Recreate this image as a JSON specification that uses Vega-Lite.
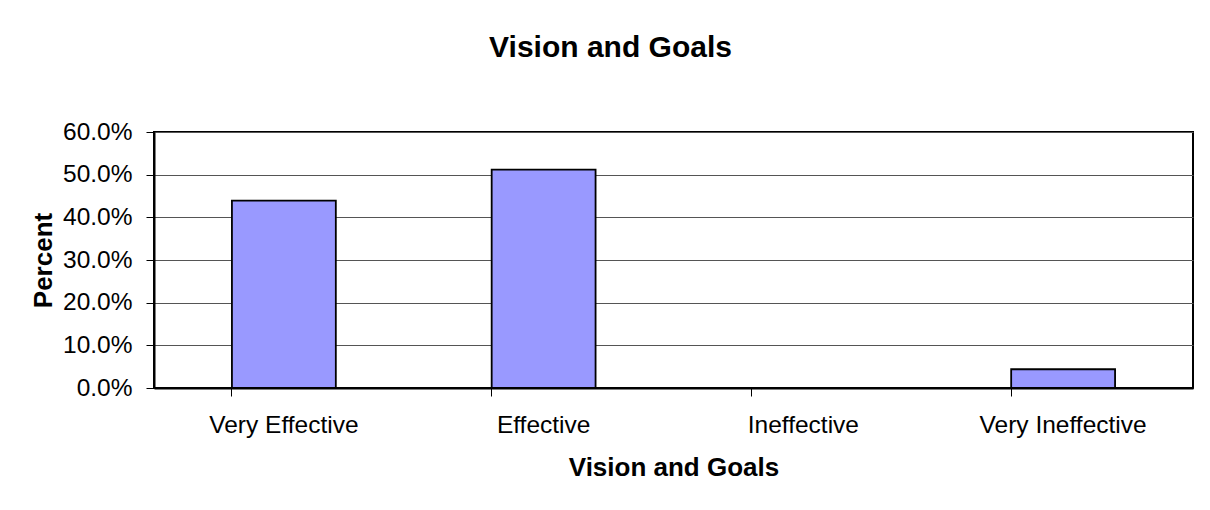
{
  "$schema": "https://vega.github.io/schema/vega-lite/v6.json",
  "width": 1039,
  "height": 256,
  "autosize": {"type": "none"},
  "padding": {"left": 154, "top": 132, "right": 17, "bottom": 122},
  "background": "white",
  "title": {
    "text": "Vision and Goals",
    "font": "Liberation Sans",
    "fontSize": 30,
    "fontWeight": "bold",
    "color": "black",
    "anchor": "middle",
    "frame": "group",
    "dx": -63,
    "baseline": "alphabetic",
    "offset": 32
  },
  "data": {
    "values": [
      {"category": "Very Effective", "percent": 0.439},
      {"category": "Effective", "percent": 0.512},
      {"category": "Ineffective", "percent": 0.0},
      {"category": "Very Ineffective", "percent": 0.044}
    ]
  },
  "mark": {"type": "bar", "fill": "#9999FF", "stroke": "black", "strokeWidth": 1.8},
  "encoding": {
    "x": {
      "field": "category",
      "type": "nominal",
      "sort": null,
      "scale": {"paddingInner": 0.6, "paddingOuter": 0.3},
      "axis": {
        "title": "Vision and Goals",
        "titleFont": "Liberation Sans",
        "titleFontSize": 26,
        "titleFontWeight": "bold",
        "titleColor": "black",
        "titlePadding": 18,
        "labelFont": "Liberation Sans",
        "labelFontSize": 24.5,
        "labelColor": "black",
        "labelAngle": 0,
        "labelPadding": 17,
        "bandPosition": 0,
        "ticks": true,
        "tickSize": 8,
        "tickColor": "black",
        "tickWidth": 1,
        "domainColor": "black",
        "domainWidth": 2,
        "grid": false
      }
    },
    "y": {
      "field": "percent",
      "type": "quantitative",
      "scale": {"domain": [0, 0.6], "nice": false},
      "axis": {
        "title": "Percent",
        "titleFont": "Liberation Sans",
        "titleFontSize": 26,
        "titleFontWeight": "bold",
        "titleColor": "black",
        "titlePadding": 6,
        "values": [0, 0.1, 0.2, 0.3, 0.4, 0.5, 0.6],
        "format": ".1%",
        "labelFont": "Liberation Sans",
        "labelFontSize": 24.5,
        "labelColor": "black",
        "labelPadding": 14,
        "tickSize": 8,
        "tickColor": "black",
        "tickWidth": 1,
        "domainColor": "black",
        "domainWidth": 2,
        "grid": true,
        "gridColor": "#555555",
        "gridWidth": 1
      }
    }
  },
  "config": {
    "view": {"stroke": "black", "strokeWidth": 2}
  }
}
